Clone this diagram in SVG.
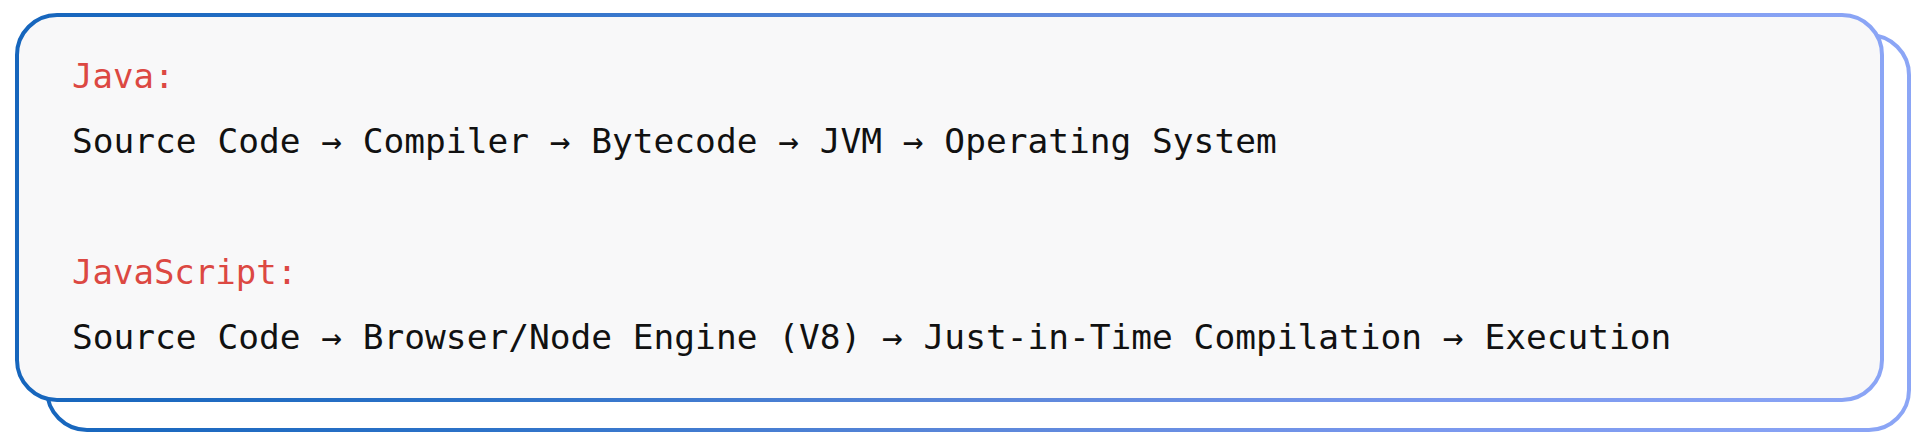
<svg xmlns="http://www.w3.org/2000/svg" width="1920" height="443" viewBox="0 0 1920 443">
<defs>
<linearGradient id="g" x1="0" y1="0" x2="1920" y2="0" gradientUnits="userSpaceOnUse">
<stop offset="0" stop-color="#1565bc"/>
<stop offset="0.25" stop-color="#2c72c8"/>
<stop offset="0.5" stop-color="#5a86d9"/>
<stop offset="0.75" stop-color="#7a98ee"/>
<stop offset="1" stop-color="#8ca6f6"/>
</linearGradient>
<style>
.code{font-family:"DejaVu Sans Mono","Liberation Mono",monospace;font-size:34.5px;fill:#111}
.lab{font-family:"DejaVu Sans Mono","Liberation Mono",monospace;font-size:34px;fill:#dc4842}
.box{stroke:url(#g);stroke-width:4}
</style>
</defs>
<rect width="1920" height="443" fill="#ffffff"/>
<g id="back-card"><rect class="box" x="47" y="35" width="1862" height="395" rx="40" fill="#ffffff"/></g>
<g id="front-card"><rect class="box" x="17" y="15" width="1865" height="385" rx="40" fill="#f8f8f9"/></g>
<g id="java">
<text class="lab" x="72" y="88">Java:</text>
<text class="code" x="72" y="153">Source Code → Compiler → Bytecode → JVM → Operating System</text>
</g>
<g id="javascript">
<text class="lab" x="72" y="284">JavaScript:</text>
<text class="code" x="72" y="349">Source Code → Browser/Node Engine (V8) → Just-in-Time Compilation → Execution</text>
</g>
<g id="connectors"></g>
</svg>
